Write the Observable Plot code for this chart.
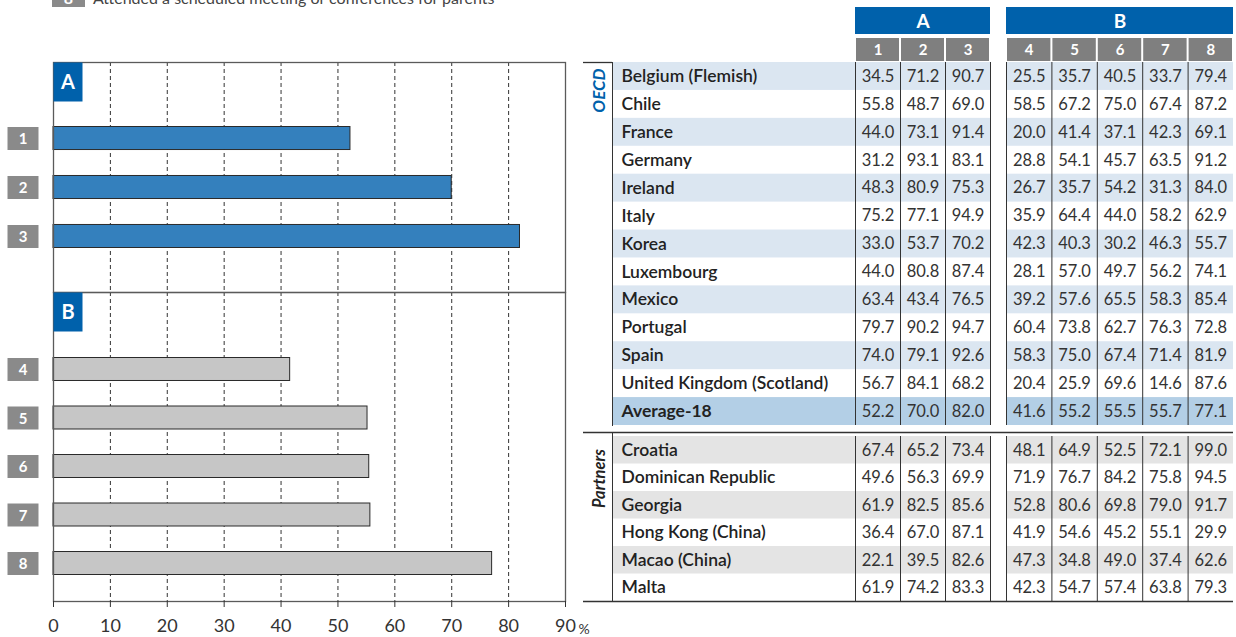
<!DOCTYPE html>
<html><head><meta charset="utf-8">
<script src="https://cdn.jsdelivr.net/npm/d3@7"></script>
<script src="https://cdn.jsdelivr.net/npm/@observablehq/plot@0.6"></script>
<style>
body{margin:0;background:#fff;}
#chart{position:relative;width:1236px;height:637px;overflow:hidden;font-family:Lato,"Open Sans",sans-serif;}
#chart svg{position:absolute;overflow:visible;background:transparent;max-width:none;}
.legend{position:absolute;left:52px;top:-12px;height:19px;display:flex;align-items:flex-end;font-size:16px;color:#444;line-height:19px;}
.legend .lbox{display:inline-block;width:33px;height:19px;background:#8a8a8a;color:#fff;font-weight:bold;text-align:center;margin-right:8px;}
</style></head>
<body><div id="chart"><div class="legend"><span class="lbox">8</span><span>Attended a scheduled meeting or conferences for parents</span></div></div>
<script>
// ---------- DATA ----------
const itemKeys = ["1","2","3","4","5","6","7","8"];
const groupA = ["1","2","3"];
const groupB = ["4","5","6","7","8"];
const xTicks = [0,10,20,30,40,50,60,70,80,90];

const oecdCountries = ["Belgium (Flemish)","Chile","France","Germany","Ireland","Italy","Korea","Luxembourg","Mexico","Portugal","Spain","United Kingdom (Scotland)","Average-18"];
const oecdValues = [
  [34.5,71.2,90.7,25.5,35.7,40.5,33.7,79.4],
  [55.8,48.7,69.0,58.5,67.2,75.0,67.4,87.2],
  [44.0,73.1,91.4,20.0,41.4,37.1,42.3,69.1],
  [31.2,93.1,83.1,28.8,54.1,45.7,63.5,91.2],
  [48.3,80.9,75.3,26.7,35.7,54.2,31.3,84.0],
  [75.2,77.1,94.9,35.9,64.4,44.0,58.2,62.9],
  [33.0,53.7,70.2,42.3,40.3,30.2,46.3,55.7],
  [44.0,80.8,87.4,28.1,57.0,49.7,56.2,74.1],
  [63.4,43.4,76.5,39.2,57.6,65.5,58.3,85.4],
  [79.7,90.2,94.7,60.4,73.8,62.7,76.3,72.8],
  [74.0,79.1,92.6,58.3,75.0,67.4,71.4,81.9],
  [56.7,84.1,68.2,20.4,25.9,69.6,14.6,87.6],
  [52.2,70.0,82.0,41.6,55.2,55.5,55.7,77.1]
];
const partnerCountries = ["Croatia","Dominican Republic","Georgia","Hong Kong (China)","Macao (China)","Malta"];
const partnerValues = [
  [67.4,65.2,73.4,48.1,64.9,52.5,72.1,99.0],
  [49.6,56.3,69.9,71.9,76.7,84.2,75.8,94.5],
  [61.9,82.5,85.6,52.8,80.6,69.8,79.0,91.7],
  [36.4,67.0,87.1,41.9,54.6,45.2,55.1,29.9],
  [22.1,39.5,82.6,47.3,34.8,49.0,37.4,62.6],
  [61.9,74.2,83.3,42.3,54.7,57.4,63.8,79.3]
];
const averageLabel = "Average-18";
const barValues = oecdValues[oecdCountries.indexOf(averageLabel)];

// ---------- STYLE ----------
const FONT = "Lato, 'Open Sans', sans-serif";
const BLUE = "#0061ab";
const BAR_A = "#3480bd";
const BAR_B = "#c6c6c6";
const GRAY_BOX = "#8a8a8a";
const SHADE_O = "#dbe6f1";
const SHADE_AVG = "#b3cfe6";
const SHADE_P = "#e4e4e4";
const STYLE = {fontFamily: FONT, color: "#333", background: "transparent", overflow: "visible"};

const chart = document.getElementById("chart");
function place(node, left, top) {
  node.style.left = left + "px";
  node.style.top = top + "px";
  chart.appendChild(node);
}
const rectSymbol = (w, h) => ({draw(ctx) { ctx.rect(-w / 2, -h / 2, w, h); }});

// ---------- LEFT BAR PANELS ----------
function barPanel({keys, fill, label, height, marginTop, marginBottom, bandRange, pad, withAxis}) {
  const data = keys.map(k => ({item: k, value: barValues[itemKeys.indexOf(k)]}));
  const marks = [
    Plot.ruleX(xTicks.slice(1, -1), {stroke: "#333", strokeDasharray: "4,3", strokeWidth: 1}),
    Plot.barX(data, {x: "value", y: "item", fill, stroke: "#2a2a2a", strokeWidth: 1}),
    Plot.frame({stroke: "#5a5a5a", strokeWidth: 1.3}),
    Plot.dot([label], {frameAnchor: "top-left", dx: 14.5, dy: 19.5, symbol: rectSymbol(29, 39), fill: BLUE, stroke: "none"}),
    Plot.text([label], {frameAnchor: "top-left", textAnchor: "middle", lineAnchor: "middle", dx: 14.5, dy: 20, text: d => d, fill: "white", fontSize: 20, fontWeight: "bold"}),
    Plot.dot(data, {y: "item", frameAnchor: "left", dx: -30.5, symbol: rectSymbol(31, 23), fill: GRAY_BOX, stroke: "none"}),
    Plot.text(data, {y: "item", frameAnchor: "left", textAnchor: "middle", lineAnchor: "middle", dx: -30.5, dy: 1, text: "item", fill: "white", fontSize: 15, fontWeight: "bold"})
  ];
  if (withAxis) {
    marks.push(
      Plot.axisX({ticks: xTicks, tickSize: 6, tickPadding: 12, fontSize: 18, label: null, stroke: "#333", tickFormat: d => String(d)}),
      Plot.text(["%"], {frameAnchor: "bottom-right", textAnchor: "start", lineAnchor: "middle", dx: 13, dy: 28, text: d => d, fontSize: 14, fill: "#333"})
    );
  }
  return Plot.plot({
    width: 580, height, marginLeft: 53, marginRight: 15, marginTop, marginBottom,
    style: STYLE,
    x: {domain: [0, 90], axis: null},
    y: {type: "band", domain: keys, range: bandRange, paddingInner: pad, paddingOuter: 0, round: false, axis: null},
    marks
  });
}
place(barPanel({keys: groupA, fill: BAR_A, label: "A", height: 293, marginTop: 62, marginBottom: 1, bandRange: [126.5, 247.5], pad: 0.53}), 0, 0);
place(barPanel({keys: groupB, fill: BAR_B, label: "B", height: 346, marginTop: 1, marginBottom: 36, bandRange: [66.5, 283.5], pad: 0.526, withAxis: true}), 0, 291);

// ---------- TABLE ----------
function headerBlock(label, keys, width) {
  return Plot.plot({
    width, height: 54, margin: 0, style: STYLE,
    x: {type: "band", domain: keys, padding: 0, round: false, axis: null},
    y: {type: "band", domain: ["grp", "sub"], padding: 0, round: false, axis: null},
    marks: [
      Plot.cell(["grp"], {y: d => d, fill: BLUE}),
      Plot.cell(keys, {x: d => d, y: () => "sub", fill: "#7f7f7f", insetTop: 4, insetLeft: 1, insetRight: 1}),
      Plot.text([label], {y: () => "grp", frameAnchor: "middle", dy: 1, text: d => d, fill: "white", fontWeight: "bold", fontSize: 19}),
      Plot.text(keys, {x: d => d, y: () => "sub", dy: 2, text: d => d, fill: "white", fontWeight: "bold", fontSize: 15})
    ]
  });
}
place(headerBlock("A", groupA, 135), 855, 7);
place(headerBlock("B", groupB, 227), 1006, 7);

function tableBlock({names, values, keys, width, height, marginLeft, marginTop = 0, colRange, showNames, rightEdge, partners, groupLabel, groupColor, groupDy, groupSize}) {
  const rows = names.map((name, i) => ({name, i, values: values[i]}));
  const cells = rows.flatMap(r => keys.map(k => ({name: r.name, col: k, value: r.values[itemKeys.indexOf(k)]})));
  const colW = (colRange[1] - colRange[0]) / keys.length;
  const rowH = (height - marginTop) / rows.length;
  const shaded = rows.filter(r => r.i % 2 === 0 && r.name !== averageLabel);
  const avg = rows.filter(r => r.name === averageLabel);
  const regular = rows.filter(r => r.name !== averageLabel);
  const first = [rows[0].name], last = [rows[rows.length - 1].name];
  const marks = [
    Plot.cell(shaded, {y: "name", fill: partners ? SHADE_P : SHADE_O}),
    Plot.cell(avg, {y: "name", fill: SHADE_AVG}),
    Plot.ruleX(keys, {x: d => d, dx: -colW / 2, stroke: "#333", strokeWidth: 1}),
    Plot.text(cells, {x: "col", y: "name", text: d => d.value.toFixed(1), fontSize: 16.5, fill: "#333"})
  ];
  if (rightEdge) marks.push(Plot.ruleX([keys[keys.length - 1]], {x: d => d, dx: colW / 2, stroke: "#333", strokeWidth: 1}));
  if (showNames) {
    marks.push(
      Plot.text(regular, {y: "name", text: "name", frameAnchor: "left", textAnchor: "start", dx: 9, fontSize: 17.5, fontWeight: 600, fill: "#222"}),
      Plot.text(avg, {y: "name", text: "name", frameAnchor: "left", textAnchor: "start", dx: 9, fontSize: 17.5, fontWeight: "bold", fill: "#222"}),
      Plot.frame({anchor: "left", stroke: "#333", strokeWidth: 1, insetTop: -marginTop}),
      Plot.text([groupLabel], {frameAnchor: "top-left", textAnchor: "middle", lineAnchor: "middle", dx: -13, dy: groupDy, rotate: -90, text: d => d, fill: groupColor, fontStyle: "italic", fontWeight: "bold", fontSize: groupSize})
    );
    if (!partners) {
      marks.push(Plot.ruleY(first, {y: d => d, dy: -rowH / 2, insetLeft: -marginLeft, insetRight: width - marginLeft, stroke: "#333", strokeWidth: 1.3}));
    }
  }
  if (partners) {
    const ins = showNames ? {insetLeft: -marginLeft, insetRight: -16} : {};
    marks.push(
      Plot.ruleY(first, {y: d => d, dy: -rowH / 2 - marginTop, ...ins, stroke: "#333", strokeWidth: 1.3}),
      Plot.ruleY(last, {y: d => d, dy: rowH / 2, ...ins, stroke: "#333", strokeWidth: 1.3})
    );
  }
  return Plot.plot({
    width, height, marginLeft, marginRight: 0, marginTop, marginBottom: 0, style: STYLE,
    x: {type: "band", domain: keys, range: colRange, padding: 0, round: false, axis: null},
    y: {type: "band", domain: names, padding: 0, round: false, axis: null},
    marks
  });
}
place(tableBlock({names: oecdCountries, values: oecdValues, keys: groupA, width: 407, height: 363, marginLeft: 29, colRange: [272, 407], showNames: true, rightEdge: true, groupLabel: "OECD", groupColor: BLUE, groupDy: 28, groupSize: 17}), 583, 62);
place(tableBlock({names: oecdCountries, values: oecdValues, keys: groupB, width: 227, height: 363, marginLeft: 0, colRange: [0, 227]}), 1006, 62);
place(tableBlock({names: partnerCountries, values: partnerValues, keys: groupA, width: 407, height: 169, marginLeft: 29, marginTop: 4, colRange: [272, 407], showNames: true, rightEdge: true, partners: true, groupLabel: "Partners", groupColor: "#222", groupDy: 42, groupSize: 16.5}), 583, 432);
place(tableBlock({names: partnerCountries, values: partnerValues, keys: groupB, width: 227, height: 169, marginLeft: 0, marginTop: 4, colRange: [0, 227], partners: true}), 1006, 432);
</script>
</body></html>
